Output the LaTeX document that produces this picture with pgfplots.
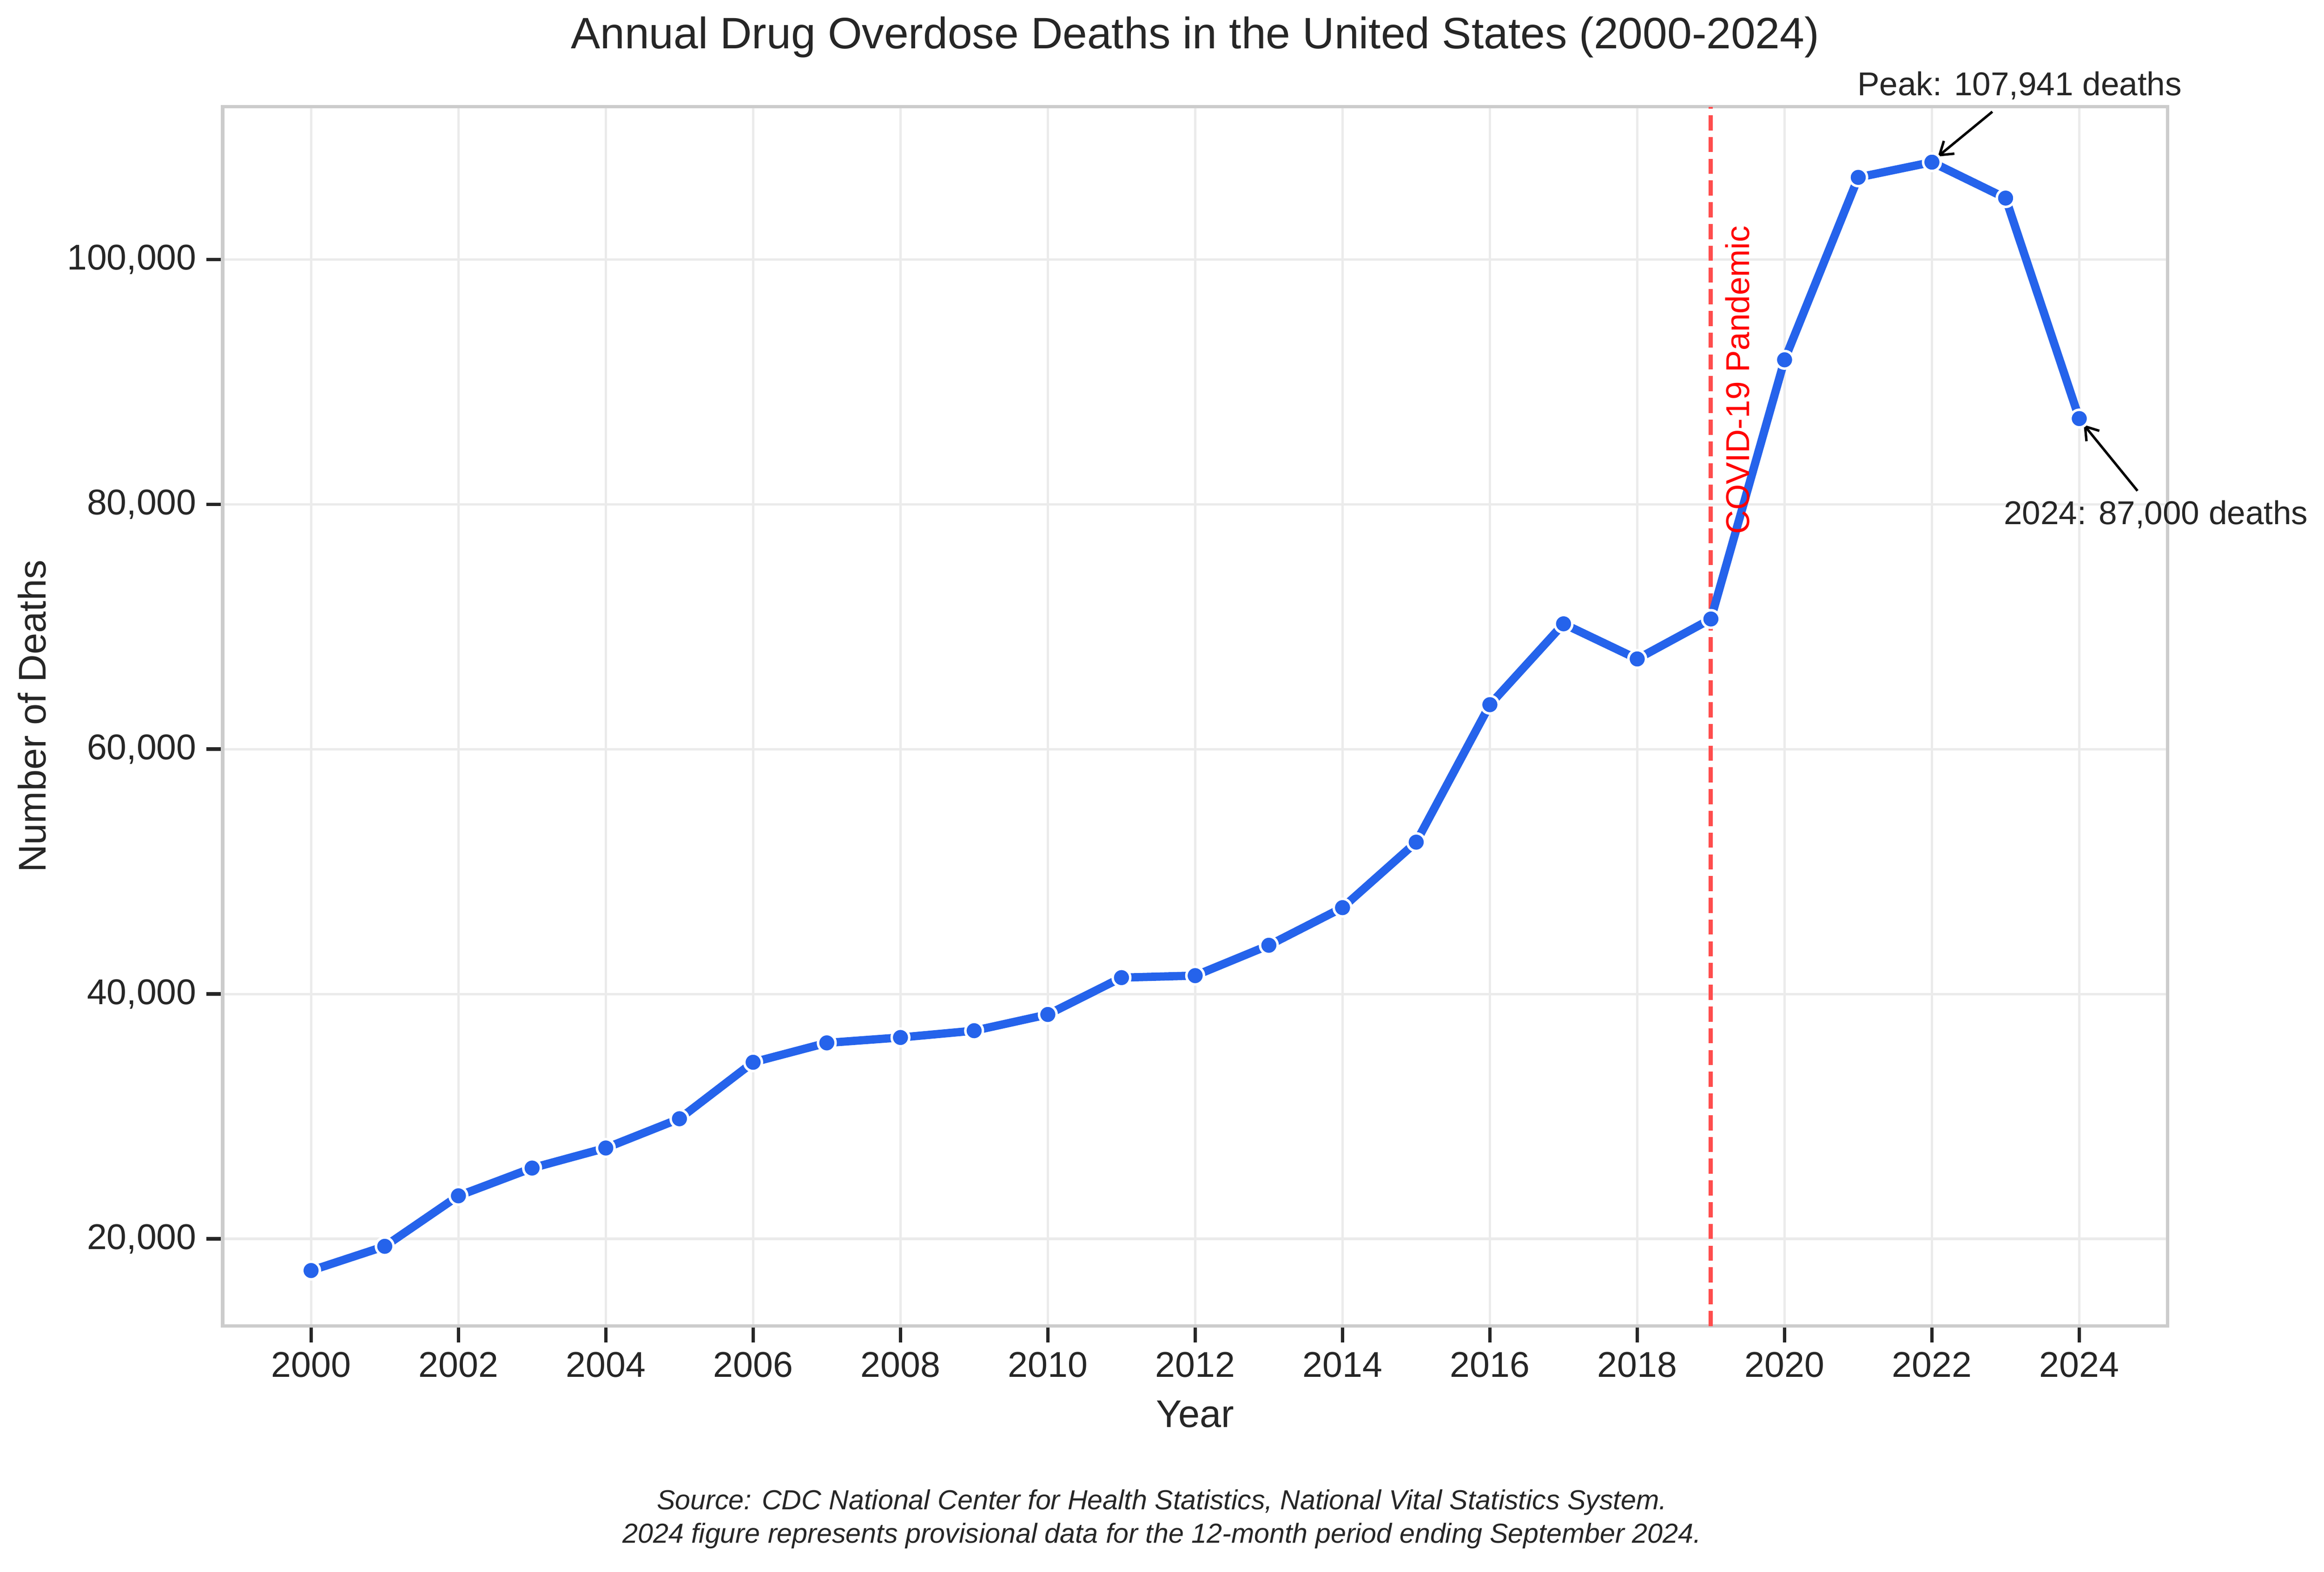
\documentclass[border=0pt]{standalone}
\usepackage{fontspec}
\setmainfont{Liberation Sans}
\usepackage{pgfplots}
\pgfplotsset{compat=1.18}
\usetikzlibrary{arrows.meta}
\definecolor{txt}{HTML}{262626}
\definecolor{lineblue}{HTML}{2563EB}
\definecolor{spine}{HTML}{CCCCCC}
\definecolor{gridc}{HTML}{EBEBEB}
\definecolor{vred}{RGB}{255,77,77}

\pgfplotstableread{
year deaths
2000 17415
2001 19394
2002 23518
2003 25785
2004 27424
2005 29813
2006 34425
2007 36010
2008 36450
2009 37004
2010 38329
2011 41340
2012 41502
2013 43982
2014 47055
2015 52404
2016 63632
2017 70237
2018 67367
2019 70630
2020 91799
2021 106699
2022 107941
2023 105007
2024 87000
}\deaths

\begin{document}
\begin{tikzpicture}
\useasboundingbox (-80.9pt,-89.3pt) rectangle (763.5pt,481.9pt);
\begin{axis}[
  at={(0pt,0pt)}, anchor=south west,
  scale only axis, width=706.7pt, height=443.1pt,
  xmin=1998.8, xmax=2025.2, ymin=12889, ymax=112467,
  xtick={2000,2002,...,2024},
  ytick={20000,40000,60000,80000,100000},
  scaled y ticks=false,
  /pgf/number format/assume math mode=true,
  yticklabel style={/pgf/number format/.cd, fixed, 1000 sep={,}},
  xticklabel style={/pgf/number format/.cd, fixed, 1000 sep={}},
  tick label style={font=\fontsize{13}{15}\selectfont, text=txt},
  tick align=outside, tick pos=left,
  major tick length=6pt,
  tick style={txt, line width=1.25pt},
  axis line style={spine, line width=1.25pt},
  grid=major,
  major grid style={gridc, line width=0.9pt},
  clip=false,
]
\addplot[vred, line width=1.5pt, dash pattern=on 5.5pt off 2.4pt]
  coordinates {(2019,12889) (2019,112467)};
\addplot[lineblue, line width=3pt, mark=*, mark size=3.2pt,
  mark options={fill=lineblue, draw=white, line width=0.9pt, solid}]
  table[x=year, y=deaths] {\deaths};

\node[rotate=90, anchor=west, inner sep=0pt, text=red,
  font=\fontsize{12}{14}\selectfont] at (axis cs:2019.36,77530) {COVID-19 Pandemic};

\node[text=txt, font=\fontsize{12}{14}\selectfont] at (axis cs:2023.19,114200) {Peak: 107,941 deaths};
\draw[black, line width=0.9pt, -{Straight Barb[length=4.5pt,width=6pt]}]
  (axis cs:2022.82,112060) -- (axis cs:2022.08,108400);

\node[text=txt, font=\fontsize{12}{14}\selectfont] at (axis cs:2025.04,79180) {2024: 87,000 deaths};
\draw[black, line width=0.9pt, -{Straight Barb[length=4.5pt,width=6pt]}]
  (axis cs:2024.79,81100) -- (axis cs:2024.06,86500);
\end{axis}

\node[text=txt, font=\fontsize{16}{19}\selectfont] at (353.35pt,468.4pt)
  {Annual Drug Overdose Deaths in the United States (2000-2024)};
\node[text=txt, font=\fontsize{14}{17}\selectfont] at (353.35pt,-32pt) {Year};
\node[text=txt, font=\fontsize{14}{17}\selectfont, rotate=90] at (-69.3pt,221.55pt) {Number of Deaths};
\node[text=txt, font=\fontsize{10}{12}\itshape, align=center, anchor=center] at (341.25pt,-70.2pt)
  {Source: CDC National Center for Health Statistics, National Vital Statistics System.\\
   2024 figure represents provisional data for the 12-month period ending September 2024.};
\end{tikzpicture}
\end{document}
